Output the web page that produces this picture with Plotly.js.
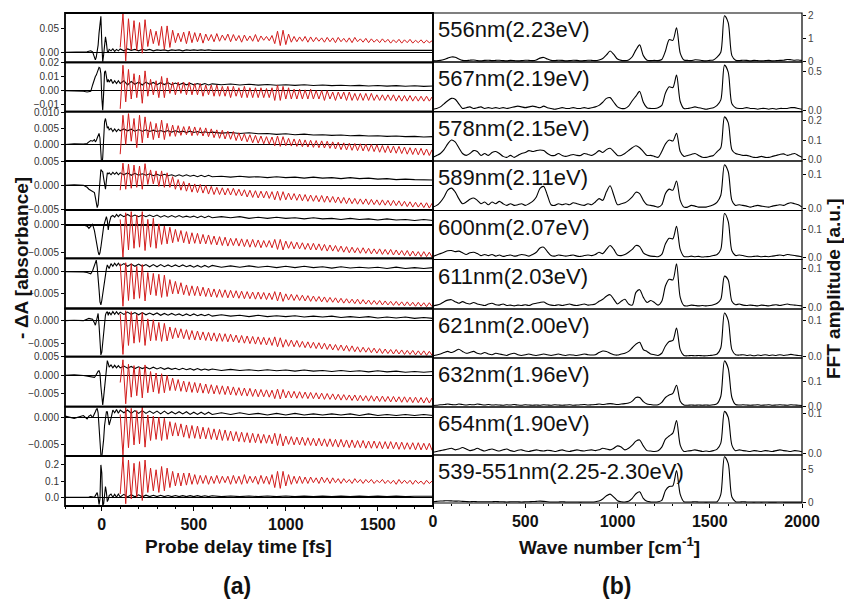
<!DOCTYPE html>
<html><head><meta charset="utf-8">
<script src="https://cdn.plot.ly/plotly-3.0.1.min.js"></script>
<style>html,body{margin:0;padding:0;background:#fff}#plot{width:844px;height:600px}</style>
</head><body><div id="plot"></div>
<script>
// ---------- Data ----------
const panelLabels = ["556nm(2.23eV)","567nm(2.19eV)","578nm(2.15eV)","589nm(2.11eV)","600nm(2.07eV)","611nm(2.03eV)","621nm(2.00eV)","632nm(1.96eV)","654nm(1.90eV)","539-551nm(2.25-2.30eV)"];

// probe delay (fs) for the black traces
const tBlack = [-200,-150,-100,-80,-70,-60,-50,-40,-35,-30,-25,-20,-15,-10,-5,0,5,10,15,20,25,30,35,40,50,60,70,80,90,100,
120,140,160,180,200,220,240,260,280,300,320,340,360,380,400,420,440,460,480,500,520,540,560,580,600,
650,700,750,800,850,900,950,1000,1050,1100,1150,1200,1250,1300,1350,1400,1450,1500,1550,1600,1650,1700,1750,1800];
// red traces start at 100 fs, one value every 15 fs
const redStart = 100, redStep = 15;
// FFT spectra start at 0 cm-1, one value every 20 cm-1
const wnStart = 0, wnStep = 20;

const black556 = [0,0,.0005,.001,.002,.003,.001,-.008,-.016,-.01,0,.015,.04,.068,.075,.02,-.02,-.005,.025,.032,.02,.002,0,.006,.003,.007,.002,.006,.003,.007,
.003,.007,.004,.006,.003,.006,.004,.006,.003,.005,.004,.005,.003,.005,.004,.005,.003,.005,.004,.005,.004,.005,.004,.005,.004,
.004,.005,.004,.005,.004,.0045,.004,.005,.0035,.0045,.004,.0045,.0035,.0045,.004,.0042,.0035,.0042,.0036,.0042,.0035,.004,.0036,.004];
const red556 = [.010,.080,-.018,.070,.005,.066,.004,.062,-.002,.068,
.012,.048,.018,.044,.014,.054,.006,.055,.010,.046,
.020,.040,.022,.042,.018,.044,.020,.041,.022,.040,
.019,.038,.024,.037,.022,.039,.023,.036,.025,.038,
.022,.037,.024,.035,.021,.036,.024,.034,.023,.037,
.022,.034,.025,.033,.024,.035,.018,.044,.014,.046,
.016,.038,.021,.033,.022,.032,.023,.033,.021,.032,
.022,.031,.023,.030,.021,.031,.022,.030,.020,.031,
.022,.029,.021,.030,.020,.031,.022,.028,.021,.029,
.020,.028,.021,.027,.020,.028,.021,.027,.019,.026,
.020,.027,.019,.026,.020,.027,.019,.025,.020,.026,
.019,.025,.020,.024];

const black567 = [0,0,-.0005,-.001,-.001,-.0005,.004,.009,.01,.011,.013,.015,.0165,.016,.012,-.005,-.014,-.002,.013,.014,.01,.006,.008,.006,.008,.005,.007,.005,.007,.005,
.007,.004,.0065,.0045,.006,.004,.006,.0045,.0058,.0042,.0056,.0043,.0055,.0042,.0054,.0042,.0053,.0041,.0052,.0041,.005,.0041,.005,.004,.0048,
.0042,.0047,.004,.0045,.0039,.0043,.0038,.0042,.0037,.0041,.0036,.004,.0035,.0038,.0034,.0037,.0033,.0036,.0032,.0035,.0031,.0034,.003,.0033];
const red567 = [-.013,.018,-.008,.015,-.006,.012,-.005,.011,-.009,.014,
-.004,.008,-.003,.007,-.005,.010,-.005,.009,-.002,.006,
-.003,.006,-.002,.006,-.003,.006,-.003,.005,-.003,.005,
-.004,.004,-.003,.004,-.004,.004,-.004,.003,-.004,.003,
-.005,.003,-.004,.002,-.005,.003,-.005,.002,-.005,.002,
-.005,.002,-.005,.0015,-.005,.002,-.007,.004,-.007,.003,
-.006,.002,-.006,.001,-.006,.001,-.006,.0005,-.006,.001,
-.006,0,-.006,0,-.007,0,-.006,-.001,-.007,-.001,
-.006,-.001,-.007,-.001,-.007,-.002,-.007,-.002,-.007,-.002,
-.007,-.002,-.007,-.003,-.007,-.003,-.007,-.003,-.007,-.003,
-.0075,-.0035,-.0075,-.0035,-.0075,-.0035,-.0075,-.004,-.0075,-.004,
-.0075,-.004,-.0075,-.0045];

const black578 = [0,.0002,.0001,.0003,.0008,.0012,.001,.0015,.0008,.0012,.002,.0028,.0034,.002,-.002,-.007,-.004,.002,.007,.008,.0065,.005,.0055,.0045,.005,.004,.0048,.004,.0047,.0042,
.0048,.0042,.0047,.0041,.0046,.0041,.0045,.004,.0044,.004,.0043,.0039,.0043,.0038,.0042,.0038,.0041,.0037,.0041,.0037,.004,.0036,.0039,.0036,.0038,
.0035,.0037,.0034,.0036,.0033,.0034,.0031,.0033,.003,.0032,.0029,.003,.0028,.0029,.0027,.0028,.0026,.0027,.0025,.0026,.0024,.0025,.0023,.0024];
const red578 = [-.003,.009,0,.0095,.001,.008,-.001,.009,.0005,.0085,
.002,.007,.0015,.0065,.002,.0075,.0015,.0065,.0025,.006,
.0025,.0058,.0028,.0055,.003,.0056,.0027,.0054,.0028,.0052,
.0026,.0051,.0024,.0048,.0021,.0045,.0019,.0044,.0017,.0041,
.0016,.004,.0012,.0036,.0011,.0033,.0008,.003,.0005,.0028,
.0004,.0026,.0002,.0024,.0001,.0023,-.0004,.0026,-.0006,.0024,
-.0004,.0019,-.0005,.0017,-.0006,.0016,-.0007,.0014,-.0008,.0013,
-.0009,.0012,-.001,.0011,-.0011,.001,-.0012,.0008,-.0014,.0007,
-.0016,.0005,-.0017,.0004,-.0018,.0003,-.0019,.0002,-.002,.0001,
-.0021,0,-.0022,-.0001,-.0024,-.0003,-.0025,-.0004,-.0026,-.0005,
-.0027,-.0006,-.0028,-.0008,-.003,-.001,-.0031,-.0011,-.0032,-.0012,
-.0033,-.0014,-.0034,-.0016];

const black589 = [0,.0001,0,-.0004,-.0008,-.001,-.0012,-.0015,-.0025,-.004,-.0046,-.004,-.001,.002,.0033,.003,.0028,.0015,0,-.0008,.001,.0026,.0024,.0026,.0022,.0027,.0023,.0027,.0022,.0026,
.0022,.0026,.0021,.0025,.0021,.0024,.0021,.0024,.002,.0023,.002,.0023,.002,.0022,.0019,.0022,.0019,.0022,.0019,.0021,.0018,.0021,.0018,.0021,.0018,
.0019,.0017,.0019,.0017,.0018,.0016,.0018,.0016,.0017,.0015,.0017,.0015,.0016,.0014,.0016,.0014,.0015,.0013,.0014,.0012,.0013,.0012,.0012,.0011];
const red589 = [-.001,.0046,-.0008,.0044,-.0006,.0042,-.0004,.004,-.0008,.0045,
.0002,.0032,.0003,.003,-.0002,.003,-.0004,.0026,-.0004,.0018,
-.0008,.0012,-.001,.0008,-.0012,.0005,-.0014,.0003,-.0015,.0002,
-.0016,0,-.0018,-.0002,-.0019,-.0004,-.0019,-.0005,-.002,-.0006,
-.002,-.0006,-.0021,-.0008,-.0022,-.0009,-.0024,-.001,-.0025,-.0011,
-.0026,-.0012,-.0026,-.0012,-.0027,-.0013,-.003,-.0012,-.0031,-.0013,
-.003,-.0016,-.003,-.0017,-.0031,-.0018,-.0032,-.0019,-.0033,-.002,
-.0033,-.0021,-.0034,-.0021,-.0035,-.0022,-.0035,-.0023,-.0036,-.0024,
-.0037,-.0025,-.0038,-.0026,-.0038,-.0027,-.0039,-.0028,-.0039,-.0028,
-.004,-.0029,-.004,-.003,-.0041,-.003,-.0041,-.0031,-.0042,-.0031,
-.0042,-.0032,-.0043,-.0033,-.0044,-.0034,-.0045,-.0035,-.0045,-.0036,
-.0046,-.0036,-.0047,-.0037];

const black600 = [0,.0001,0,-.0002,-.0006,-.0002,.0001,-.001,-.0021,-.003,-.004,-.0048,-.0054,-.005,-.004,-.0025,-.001,-.0003,.0004,.001,.0015,.0008,-.0009,.0003,.0015,.0017,.0014,.0019,.0015,.0019,
.0015,.0019,.0015,.0018,.0015,.0018,.0015,.0018,.0015,.0018,.0014,.0017,.0014,.0017,.0014,.0017,.0014,.0016,.0014,.0016,.0013,.0016,.0013,.0016,.0013,
.0015,.0013,.0015,.0012,.0014,.0012,.0014,.0012,.0013,.0011,.0013,.0011,.0012,.001,.0012,.001,.0011,.0009,.0011,.0009,.001,.0008,.001,.0008];
const red600 = [.001,-.0058,.0022,-.0045,.0024,-.0042,.0018,-.004,.0024,-.0046,
.001,-.004,.0012,-.0042,.0002,-.0035,-.0002,-.0034,-.0004,-.0032,
-.0008,-.003,-.001,-.0032,-.0012,-.0034,-.0014,-.0033,-.0015,-.0034,
-.0017,-.0034,-.0018,-.0035,-.002,-.0036,-.0021,-.0037,-.0022,-.0038,
-.0024,-.0037,-.0024,-.0038,-.0025,-.0039,-.0026,-.004,-.0026,-.004,
-.0027,-.0041,-.0028,-.004,-.0028,-.0041,-.0026,-.0044,-.0026,-.0045,
-.0029,-.0042,-.003,-.0043,-.0031,-.0043,-.0032,-.0044,-.0033,-.0045,
-.0033,-.0045,-.0034,-.0046,-.0035,-.0047,-.0036,-.0047,-.0037,-.0048,
-.0038,-.0049,-.0039,-.005,-.004,-.005,-.0041,-.0051,-.0041,-.0051,
-.0042,-.0052,-.0043,-.0052,-.0043,-.0053,-.0044,-.0053,-.0044,-.0054,
-.0045,-.0054,-.0046,-.0055,-.0046,-.0056,-.0047,-.0056,-.0048,-.0057,
-.0048,-.0057,-.0049,-.0058];

const black611 = [0,0,-.0001,-.0002,-.0004,-.0005,.0002,.0014,.0022,.0026,.001,-.0008,-.004,-.0068,-.0075,-.0065,-.005,-.004,-.002,-.0002,.0006,.0015,.0012,.0007,.0018,.0012,.0019,.0013,.0019,.0013,
.0018,.0012,.0017,.0012,.0017,.0012,.0016,.0011,.0016,.0011,.0016,.0011,.0015,.0011,.0015,.0011,.0015,.0011,.0014,.001,.0014,.001,.0014,.001,.0014,
.001,.0013,.001,.0013,.001,.0012,.0009,.0012,.0009,.0012,.0009,.0011,.0008,.0011,.0008,.001,.0008,.001,.0007,.001,.0007,.0009,.0007,.0009];
const red611 = [.0018,-.0078,.002,-.0065,.0018,-.0062,.0012,-.006,.0016,-.0066,
-.0002,-.0052,-.0004,-.0054,-.0006,-.0058,-.0008,-.0056,-.0018,-.005,
-.0022,-.005,-.0025,-.0052,-.003,-.0054,-.0032,-.0054,-.0033,-.0055,
-.0035,-.0056,-.0037,-.0057,-.0039,-.0058,-.004,-.0058,-.0041,-.0059,
-.0042,-.0059,-.0043,-.006,-.0044,-.0061,-.0045,-.0061,-.0046,-.0062,
-.0046,-.0062,-.0047,-.0063,-.0048,-.0063,-.0045,-.0066,-.0046,-.0067,
-.005,-.0064,-.0051,-.0065,-.0052,-.0065,-.0053,-.0066,-.0054,-.0067,
-.0055,-.0067,-.0056,-.0068,-.0057,-.0069,-.0058,-.0069,-.0059,-.007,
-.006,-.0071,-.0061,-.0071,-.0062,-.0072,-.0062,-.0073,-.0063,-.0073,
-.0064,-.0074,-.0065,-.0074,-.0065,-.0075,-.0066,-.0075,-.0067,-.0076,
-.0067,-.0076,-.0068,-.0077,-.0068,-.0077,-.0069,-.0078,-.0069,-.0078,
-.007,-.0079,-.007,-.0079];

const black621 = [0,.0001,0,.0003,.0005,.0004,.0003,-.0005,-.001,-.0002,.0012,.0016,-.001,-.005,-.0076,-.007,-.005,-.003,-.0005,.0013,.0018,.002,.0012,.0019,.0013,.002,.0014,.002,.0014,.0019,
.0014,.0019,.0014,.0018,.0013,.0018,.0013,.0017,.0013,.0017,.0012,.0016,.0012,.0016,.0012,.0015,.0011,.0015,.0011,.0015,.0011,.0014,.0011,.0014,.001,
.0013,.001,.0012,.0009,.0012,.0009,.0011,.0009,.0011,.0008,.001,.0008,.001,.0007,.0009,.0007,.0009,.0006,.0008,.0006,.0008,.0005,.0007,.0005];
const red621 = [.0015,-.0075,.0022,-.0055,.002,-.005,.0014,-.0048,.0018,-.0055,
.0004,-.0045,.0002,-.0044,-.0004,-.0046,-.0006,-.0045,-.0014,-.004,
-.0016,-.0038,-.0018,-.004,-.002,-.0042,-.0022,-.0043,-.0023,-.0043,
-.0025,-.0044,-.0026,-.0045,-.0027,-.0046,-.0028,-.0046,-.0029,-.0047,
-.003,-.0047,-.0032,-.0049,-.0033,-.005,-.0034,-.0051,-.0035,-.0052,
-.0036,-.0053,-.0037,-.0054,-.0038,-.0055,-.0036,-.0058,-.0038,-.0059,
-.0042,-.0057,-.0043,-.0058,-.0044,-.0059,-.0046,-.006,-.0047,-.0061,
-.0048,-.0062,-.0049,-.0063,-.005,-.0064,-.0052,-.0065,-.0053,-.0066,
-.0054,-.0067,-.0055,-.0068,-.0056,-.0069,-.0058,-.007,-.0059,-.007,
-.006,-.0071,-.0061,-.0072,-.0062,-.0073,-.0063,-.0073,-.0064,-.0074,
-.0064,-.0074,-.0065,-.0075,-.0066,-.0075,-.0066,-.0076,-.0067,-.0076,
-.0067,-.0077,-.0068,-.0077];

const black632 = [0,.0001,-.0001,-.0002,-.0003,-.0004,-.0005,-.0006,-.0003,.0003,.0008,.0011,.0012,.0005,-.003,-.0065,-.0081,-.006,-.003,0,.003,.004,.0032,.0022,.0028,.002,.0027,.002,.0026,.002,
.0025,.0019,.0024,.0018,.0023,.0018,.0022,.0017,.0022,.0017,.0021,.0016,.002,.0016,.0019,.0015,.0019,.0015,.0018,.0014,.0018,.0014,.0017,.0014,.0017,
.0013,.0016,.0013,.0015,.0012,.0015,.0012,.0014,.0011,.0014,.0011,.0013,.001,.0013,.001,.0012,.0009,.0012,.0009,.0011,.0008,.001,.0008,.001];
const red632 = [-.002,.0042,-.0078,.003,-.006,.0026,-.0056,.0022,-.0062,.0028,
-.0048,.001,-.0046,.0006,-.005,.0004,-.0048,0,-.0042,-.0008,
-.0042,-.0012,-.0044,-.0016,-.0046,-.0018,-.0047,-.002,-.0048,-.0022,
-.0049,-.0024,-.005,-.0026,-.0051,-.0028,-.0052,-.0029,-.0053,-.003,
-.0054,-.0032,-.0055,-.0034,-.0056,-.0035,-.0057,-.0036,-.0058,-.0038,
-.0059,-.0039,-.0059,-.004,-.006,-.0041,-.0064,-.0038,-.0065,-.0039,
-.0062,-.0043,-.0062,-.0044,-.0063,-.0045,-.0063,-.0046,-.0064,-.0047,
-.0064,-.0048,-.0065,-.0049,-.0066,-.005,-.0066,-.0051,-.0067,-.0052,
-.0068,-.0053,-.0068,-.0054,-.0069,-.0054,-.007,-.0055,-.007,-.0056,
-.0071,-.0056,-.0071,-.0057,-.0072,-.0057,-.0072,-.0058,-.0073,-.0058,
-.0073,-.0059,-.0074,-.0059,-.0074,-.006,-.0075,-.006,-.0075,-.0061,
-.0076,-.0061,-.0076,-.0062];

const black654 = [.0002,-.0002,.0003,-.0003,.0002,.0004,-.0001,.0005,.001,.0014,.0016,.0008,-.002,-.005,-.0068,-.0072,-.006,-.004,-.0015,.0002,.001,.001,-.0002,-.0014,-.0002,.0013,.0008,.0014,.0007,.0013,
.0008,.0013,.0007,.0012,.0007,.0012,.0007,.0011,.0007,.0011,.0006,.0011,.0006,.001,.0006,.001,.0006,.001,.0005,.0009,.0005,.0009,.0005,.0009,.0005,
.0008,.0005,.0008,.0005,.0007,.0004,.0007,.0004,.0007,.0004,.0006,.0004,.0006,.0004,.0006,.0003,.0006,.0003,.0005,.0003,.0005,.0003,.0005,.0003];
const red654 = [.0005,-.0068,.0018,-.0055,.0016,-.005,.0012,-.0048,.0019,-.0054,
.0004,-.0042,.0002,-.004,0,-.0042,-.0002,-.004,-.0008,-.0034,
-.001,-.0034,-.0012,-.0036,-.0014,-.0038,-.0015,-.0038,-.0016,-.0039,
-.0018,-.0039,-.0019,-.004,-.0021,-.0041,-.0022,-.0042,-.0023,-.0042,
-.0025,-.0043,-.0026,-.0044,-.0027,-.0045,-.0028,-.0046,-.0029,-.0046,
-.003,-.0047,-.0031,-.0047,-.0032,-.0048,-.0029,-.0051,-.003,-.0052,
-.0034,-.0049,-.0035,-.005,-.0036,-.005,-.0036,-.0051,-.0037,-.0051,
-.0038,-.0052,-.0038,-.0052,-.0039,-.0053,-.0039,-.0053,-.004,-.0054,
-.004,-.0054,-.0041,-.0055,-.0041,-.0055,-.0042,-.0055,-.0042,-.0056,
-.0043,-.0056,-.0043,-.0056,-.0044,-.0057,-.0044,-.0057,-.0044,-.0057,
-.0045,-.0058,-.0045,-.0058,-.0046,-.0058,-.0046,-.0059,-.0046,-.0059,
-.0047,-.0059,-.0047,-.006];

const black545 = [0,0,.001,0,.002,.005,.003,0,.01,.025,.029,0,-.045,-.01,.2,.15,-.05,-.04,.03,.066,.03,-.027,-.015,.01,.02,0,.018,0,.02,.002,
.018,.002,.016,.003,.015,.003,.013,.004,.012,.004,.012,.004,.011,.004,.011,.004,.01,.004,.01,.004,.01,.004,.009,.004,.009,
.004,.008,.004,.008,.004,.008,.004,.008,.004,.007,.004,.007,.004,.007,.004,.007,.004,.007,.004,.007,.004,.006,.004,.006];
const red545 = [.02,.25,-.04,.23,-.01,.21,0,.22,-.02,.23,
.03,.18,.04,.17,.03,.19,.04,.18,.06,.16,
.07,.15,.07,.15,.075,.15,.08,.14,.08,.135,
.085,.135,.08,.13,.085,.135,.085,.13,.09,.13,
.08,.135,.085,.13,.08,.14,.085,.13,.09,.13,
.08,.135,.085,.13,.08,.14,.06,.16,.055,.16,
.07,.14,.08,.13,.085,.13,.085,.125,.085,.125,
.09,.12,.085,.125,.09,.12,.085,.12,.09,.115,
.085,.115,.09,.11,.085,.115,.09,.11,.085,.11,
.09,.11,.085,.105,.09,.11,.085,.105,.085,.105,
.08,.11,.085,.105,.085,.105,.08,.105,.085,.1,
.08,.105,.085,.1];

// FFT amplitude spectra, 0..2000 cm-1
const fft556 = [.03,.02,.04,.08,.14,.19,.18,.1,.04,.03,
.05,.06,.03,.02,.04,.05,.03,.04,.05,.03,
.02,.04,.03,.02,.03,.05,.04,.03,.06,.14,
.17,.1,.04,.03,.05,.04,.02,.03,.05,.04,
.02,.03,.05,.04,.03,.06,.12,.28,.45,.3,
.1,.04,.03,.06,.2,.5,.72,.25,.05,.03,
.04,.03,.08,.45,.95,.92,1.47,.36,.06,.04,
.03,.07,.06,.03,.02,.04,.06,.18,.4,2.0,
1.7,.25,.05,.03,.05,.04,.02,.04,.03,.02,
.03,.04,.02,.03,.04,.05,.08,.07,.05,.06,.04];
const fft567 = [.01,.02,.04,.08,.12,.15,.14,.08,.02,.03,
.04,.02,.03,.04,.02,.03,.02,.03,.02,.03,
.02,.03,.04,.05,.04,.03,.04,.05,.04,.03,
.05,.03,.02,.01,.02,.03,.02,.02,.03,.02,
.02,.03,.02,.03,.04,.06,.1,.15,.16,.1,
.04,.02,.02,.05,.12,.18,.24,.1,.03,.02,
.02,.03,.06,.22,.3,.29,.45,.11,.02,.02,
.03,.04,.03,.02,.01,.02,.03,.06,.13,.58,
.49,.08,.03,.02,.02,.03,.02,.02,.01,.02,
.02,.01,.02,.01,.02,.02,.02,.03,.03,.02,.01];
const fft578 = [.01,.02,.03,.05,.08,.1,.09,.06,.03,.02,
.03,.045,.04,.02,.03,.02,.035,.04,.03,.015,
.01,.02,.01,.02,.03,.035,.045,.04,.045,.048,
.045,.03,.02,.02,.03,.02,.015,.02,.025,.02,
.02,.03,.025,.02,.03,.045,.035,.05,.057,.04,
.02,.02,.03,.045,.06,.07,.06,.04,.02,.02,
.015,.01,.04,.08,.1,.095,.135,.04,.015,.02,
.025,.03,.02,.01,.01,.015,.02,.04,.06,.22,
.19,.05,.03,.025,.02,.02,.015,.01,.01,.015,
.01,.01,.015,.02,.025,.028,.02,.025,.03,.02,.01];
const fft589 = [.005,.01,.02,.035,.055,.061,.05,.03,.015,.02,
.028,.032,.025,.015,.02,.012,.02,.015,.022,.015,
.01,.015,.01,.012,.015,.01,.015,.022,.035,.06,
.066,.04,.012,.01,.015,.012,.015,.012,.018,.015,
.012,.01,.015,.012,.02,.03,.025,.05,.068,.04,
.012,.015,.018,.025,.035,.049,.045,.025,.012,.01,
.008,.005,.012,.045,.058,.055,.082,.025,.005,.005,
.01,.008,.005,.005,.005,.008,.012,.02,.04,.13,
.11,.025,.01,.012,.01,.008,.005,.008,.01,.008,
.006,.005,.008,.01,.012,.01,.015,.018,.015,.012,.005];
const fft600 = [.005,.01,.015,.02,.025,.026,.022,.024,.018,.012,
.018,.02,.015,.008,.012,.008,.012,.006,.01,.005,
.008,.01,.006,.008,.012,.01,.006,.012,.02,.035,
.038,.022,.008,.006,.01,.008,.006,.008,.01,.006,
.005,.008,.01,.008,.012,.02,.015,.03,.044,.03,
.01,.008,.012,.02,.03,.044,.04,.018,.01,.006,
.005,.004,.012,.05,.07,.068,.113,.03,.005,.004,
.006,.004,.005,.003,.004,.005,.008,.012,.03,.158,
.13,.025,.008,.01,.008,.005,.004,.005,.006,.004,
.005,.004,.006,.008,.01,.008,.012,.01,.008,.006,.004];
const fft611 = [.003,.005,.008,.014,.018,.019,.014,.01,.014,.01,
.008,.012,.008,.006,.004,.008,.01,.006,.005,.008,
.004,.005,.003,.005,.004,.006,.004,.008,.01,.012,
.013,.008,.005,.004,.006,.004,.006,.008,.005,.004,
.006,.008,.005,.006,.008,.015,.02,.028,.032,.02,
.008,.015,.02,.008,.005,.038,.045,.025,.012,.017,
.012,.005,.015,.055,.072,.07,.112,.025,.004,.003,
.005,.004,.003,.004,.003,.004,.006,.01,.02,.08,
.07,.015,.006,.008,.005,.004,.005,.004,.003,.005,
.004,.003,.005,.006,.004,.006,.008,.006,.005,.004,.003];
const fft621 = [.003,.005,.008,.012,.015,.012,.016,.021,.015,.01,
.012,.015,.01,.008,.012,.008,.006,.01,.008,.006,
.004,.008,.01,.006,.004,.006,.008,.005,.004,.006,
.008,.006,.004,.006,.008,.005,.004,.006,.005,.004,
.006,.008,.006,.005,.006,.012,.016,.015,.01,.006,
.005,.008,.01,.015,.025,.035,.04,.02,.015,.008,
.006,.004,.01,.03,.042,.045,.079,.02,.004,.003,
.004,.003,.004,.003,.003,.004,.005,.008,.025,.12,
.1,.02,.006,.005,.006,.004,.005,.003,.005,.004,
.006,.004,.005,.004,.006,.004,.005,.007,.005,.004,.003];
const fft632 = [.002,.003,.005,.006,.008,.006,.005,.008,.006,.004,
.006,.005,.008,.006,.004,.006,.004,.005,.004,.003,
.005,.004,.006,.004,.003,.005,.004,.003,.004,.003,
.005,.004,.003,.005,.004,.003,.004,.005,.003,.004,
.005,.006,.004,.005,.006,.008,.006,.008,.01,.008,
.006,.008,.01,.012,.02,.035,.035,.018,.008,.006,
.004,.005,.015,.035,.045,.052,.085,.02,.004,.003,
.004,.003,.004,.003,.004,.003,.005,.01,.04,.185,
.155,.035,.006,.004,.005,.004,.003,.004,.005,.003,
.004,.005,.003,.004,.005,.004,.003,.005,.004,.003,.002];
const fft654 = [.002,.004,.006,.008,.01,.012,.008,.01,.014,.01,
.006,.008,.012,.008,.005,.008,.01,.007,.005,.008,
.01,.006,.004,.007,.008,.005,.004,.006,.008,.006,
.005,.007,.006,.004,.006,.008,.005,.004,.006,.008,
.006,.005,.007,.008,.006,.008,.012,.01,.008,.012,
.018,.015,.008,.012,.02,.03,.033,.018,.006,.005,
.004,.006,.015,.035,.043,.05,.082,.02,.004,.005,
.006,.008,.006,.004,.005,.004,.006,.01,.025,.105,
.09,.02,.006,.008,.006,.005,.004,.006,.005,.004,
.006,.005,.004,.006,.008,.006,.005,.004,.006,.005,.003];
const fft545 = [.1,.15,.2,.22,.25,.22,.18,.2,.15,.12,
.1,.12,.1,.08,.1,.08,.1,.12,.1,.08,
.06,.08,.1,.08,.06,.08,.1,.12,.15,.18,
.15,.1,.06,.05,.06,.08,.06,.05,.06,.05,
.04,.06,.05,.06,.1,.2,.5,1.0,1.25,.8,
.25,.08,.06,.15,.6,1.3,1.6,.6,.15,.06,
.05,.08,.3,1.8,2.4,2.5,4.8,1.2,.1,.05,
.06,.08,.06,.05,.04,.05,.06,.1,1.2,6.9,
5.9,.8,.1,.06,.08,.06,.05,.04,.05,.04,
.05,.04,.03,.04,.05,.04,.03,.04,.03,.04,.03];

// axis tick labels
const leftTickVals = [[0,.05],[-.01,0,.01,.02],[0,.005,.01],[-.005,0,.005],[-.005,0],[-.005,0],[-.005,0],[-.005,0,.005],[-.005,0],[0,.1,.2]];
const leftTickFmt = ['.2f','.2f','.3f','.3f','.3f','.3f','.3f','.3f','.3f','.1f'];
const rightTickVals = [[0,1,2],[0,.5],[0,.1,.2],[0,.1],[0,.1],[0,.1],[0,.1],[0,.1],[0,.1],[0,5]];
const rightTickFmt = ['d','.1f','.1f','.1f','.1f','.1f','.1f','.1f','.1f','d'];
const timeTicks = [0,500,1000,1500];
const wnTicks = [0,500,1000,1500,2000];

// ---------- Style / layout ----------
const blacks = [black556,black567,black578,black589,black600,black611,black621,black632,black654,black545];
const reds = [red556,red567,red578,red589,red600,red611,red621,red632,red654,red545];
const ffts = [fft556,fft567,fft578,fft589,fft600,fft611,fft621,fft632,fft654,fft545];
const leftRanges = [[-.021,.082],[-.015,.0201],[-.0051,.0101],[-.0051,.00505],[-.006,.0027],[-.0083,.003],[-.008,.0027],[-.0086,.00505],[-.007,.0019],[-.054,.255]];
const rightRanges = [[-.03,2.12],[-.022,.62],[-.009,.247],[-.005,.141],[-.006,.169],[-.005,.123],[-.003,.131],[-.004,.197],[-.005,.116],[-.1,7.17]];

const W = 844, H = 600;
const FONT = 'Liberation Sans, Arial, sans-serif';
const leftB = [13,62.3,111.7,161,210,258.3,308.5,356.7,406.7,456,506];
const rightB = [13,62,111.7,161,210.5,259.5,309,358,407,455,503];
const xL = [65, 433], xR = [433, 802];
const RED = '#d21c1c';

const data = [];
const layout = {
  width: W, height: H, margin: {l:0, r:0, t:0, b:0},
  paper_bgcolor: '#fff', plot_bgcolor: 'rgba(0,0,0,0)',
  showlegend: false, hovermode: false,
  font: {family: FONT, color: '#000'},
  shapes: [], annotations: []
};
layout.xaxis = {domain:[xL[0]/W, xL[1]/W], anchor:'y10', range:[-200,1800], tickmode:'array', tickvals:timeTicks,
  ticks:'outside', ticklen:4, tickwidth:1, tickcolor:'#000', showgrid:false, zeroline:false, showline:false,
  tickfont:{family:FONT, size:16, color:'#111', weight:'bold'},
  minor:{dtick:100, tick0:0, ticks:'outside', ticklen:2, tickcolor:'#000', showgrid:false}};
layout.xaxis2 = {domain:[xR[0]/W, xR[1]/W], anchor:'y20', range:[0,2000], tickmode:'array', tickvals:wnTicks,
  ticks:'outside', ticklen:4, tickwidth:1, tickcolor:'#000', showgrid:false, zeroline:false, showline:false,
  tickfont:{family:FONT, size:16, color:'#111', weight:'bold'},
  minor:{dtick:100, tick0:0, ticks:'outside', ticklen:2, tickcolor:'#000', showgrid:false}};

for (let i = 0; i < 10; i++) {
  const yl = 'y' + (i === 0 ? '' : (i + 1));
  const ylKey = 'yaxis' + (i === 0 ? '' : (i + 1));
  layout[ylKey] = {domain:[1 - leftB[i+1]/H, 1 - leftB[i]/H], anchor:'x', range:leftRanges[i],
    tickmode:'array', tickvals:leftTickVals[i], tickformat:leftTickFmt[i],
    ticks:'outside', ticklen:3, tickcolor:'#000', showgrid:false, showline:false,
    zeroline:true, zerolinecolor:'#000', zerolinewidth:1.3,
    tickfont:{family:FONT, size:10, color:'#333'}};
  data.push({type:'scatter', mode:'lines', x:tBlack, y:blacks[i], xaxis:'x', yaxis:yl,
    line:{color:'#000', width:1.1}, cliponaxis:true});
  data.push({type:'scatter', mode:'lines', x0:redStart, dx:redStep, y:reds[i], xaxis:'x', yaxis:yl,
    line:{color:RED, width:1}, cliponaxis:true});
  layout.shapes.push({type:'rect', xref:'paper', yref:'paper', x0:xL[0]/W, x1:xL[1]/W,
    y0:1 - leftB[i+1]/H, y1:1 - leftB[i]/H, line:{color:'#000', width:1.8}, fillcolor:'rgba(0,0,0,0)'});

  const ri = i + 11;
  const yr = 'y' + ri;
  layout['yaxis' + ri] = {domain:[1 - rightB[i+1]/H, 1 - rightB[i]/H], anchor:'x2', side:'right', range:rightRanges[i],
    tickmode:'array', tickvals:rightTickVals[i], tickformat:rightTickFmt[i],
    ticks:'outside', ticklen:3, tickcolor:'#000', showgrid:false, showline:false, zeroline:false,
    tickfont:{family:FONT, size:10, color:'#444'}};
  data.push({type:'scatter', mode:'lines', x0:wnStart, dx:wnStep, y:ffts[i], xaxis:'x2', yaxis:yr,
    line:{color:'#000', width:1.1, shape:'spline', smoothing:0.8}, cliponaxis:true});
  layout.shapes.push({type:'rect', xref:'paper', yref:'paper', x0:xR[0]/W, x1:xR[1]/W,
    y0:1 - rightB[i+1]/H, y1:1 - rightB[i]/H, line:{color:'#000', width:1.2}, fillcolor:'rgba(0,0,0,0)'});
  layout.annotations.push({xref:'paper', yref:'paper', x:436/W, y:1 - rightB[i]/H, xanchor:'left', yanchor:'top',
    text:panelLabels[i], showarrow:false, font:{family:FONT, size:22, color:'#111'}, yshift:-2});
}

const bold = (s) => ({family:FONT, size:s, color:'#111', weight:'bold'});
layout.annotations.push(
  {xref:'paper', yref:'paper', x:238/W, y:1 - 546/H, text:'Probe delay time [fs]', showarrow:false, font:bold(19), xanchor:'center', yanchor:'middle'},
  {xref:'paper', yref:'paper', x:609/W, y:1 - 546/H, text:'Wave number [cm<sup>-1</sup>]', showarrow:false, font:bold(19), xanchor:'center', yanchor:'middle'},
  {xref:'paper', yref:'paper', x:237/W, y:1 - 586/H, text:'(a)', showarrow:false, font:bold(23), xanchor:'center', yanchor:'middle'},
  {xref:'paper', yref:'paper', x:616/W, y:1 - 586/H, text:'(b)', showarrow:false, font:bold(23), xanchor:'center', yanchor:'middle'},
  {xref:'paper', yref:'paper', x:22/W, y:1 - 258/H, text:'- ΔA [absorbance]', textangle:-90, showarrow:false, font:bold(19), xanchor:'center', yanchor:'middle'},
  {xref:'paper', yref:'paper', x:833/W, y:1 - 289/H, text:'<b>FFT amplitude [a.u.]</b>', textangle:-90, showarrow:false, font:bold(19), xanchor:'center', yanchor:'middle'}
);

Plotly.newPlot('plot', data, layout, {staticPlot:true, displayModeBar:false});
</script>
</body></html>
